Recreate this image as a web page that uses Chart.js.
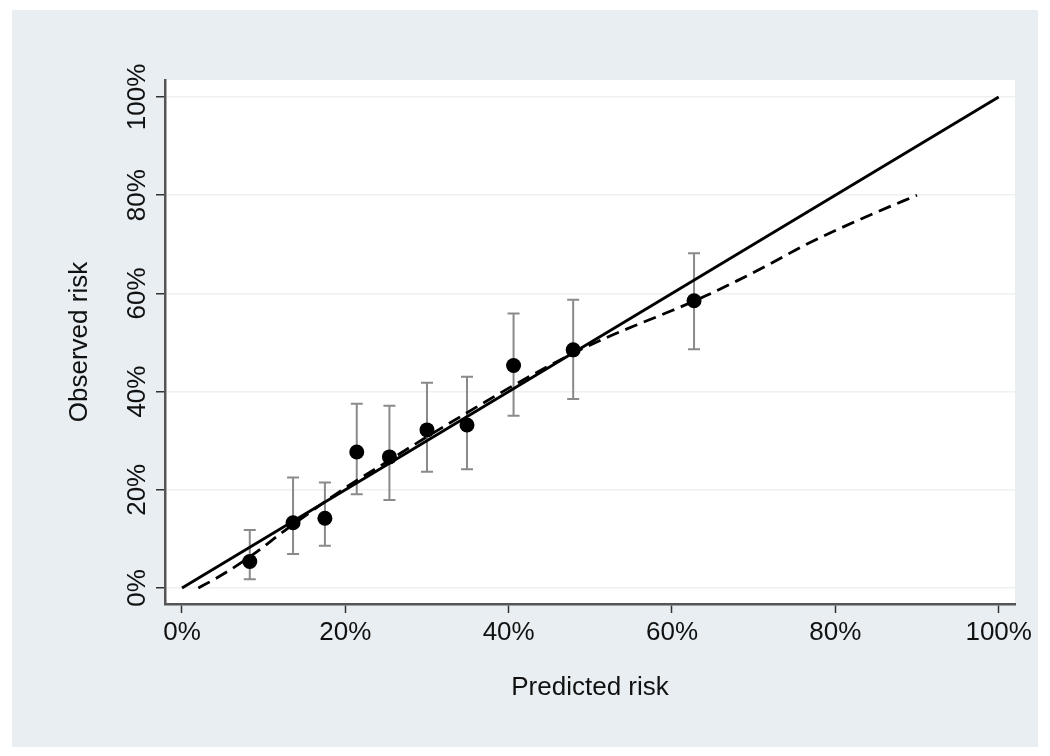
<!DOCTYPE html>
<html>
<head>
<meta charset="utf-8">
<script src="https://cdn.jsdelivr.net/npm/chart.js"></script>
<style>
  html, body { margin: 0; padding: 0; background: #fff; }
  canvas { display: block; }
</style>
</head>
<body>
<canvas id="calib" width="1050" height="756"></canvas>
<script>
// Calibration groups (values in %)
const predicted = [8.3, 13.6, 17.5, 21.4, 25.4, 30.0, 34.9, 40.6, 47.9, 62.7];
const observed  = [5.4, 13.3, 14.2, 27.7, 26.7, 32.2, 33.2, 45.3, 48.5, 58.5];
const ciLow     = [1.8, 6.9, 8.6, 19.1, 17.9, 23.7, 24.2, 35.1, 38.5, 48.6];
const ciHigh    = [11.8, 22.5, 21.5, 37.5, 37.1, 41.8, 43.0, 55.9, 58.7, 68.2];

// Smoothed calibration curve (dashed)
const smoothX = [2, 4, 6, 8, 10, 12, 14, 16, 20, 25, 30, 35, 40, 45, 48, 52, 56, 60, 64, 68, 72, 76, 80, 85, 90];
const smoothY = [0, 1.8, 3.8, 6, 8.4, 11, 13.4, 15.8, 20.4, 25.6, 30.8, 35.8, 40.7, 45.3, 47.9, 51, 53.8, 56.5, 59.4, 62.6, 66, 69.6, 72.8, 76.5, 80];

// Perfect calibration line
const refX = [0, 100];
const refY = [0, 100];

const tickValues = [0, 20, 40, 60, 80, 100];

const toXY = (xs, ys) => xs.map((x, i) => ({ x: x, y: ys[i] }));

const FONT = "'Liberation Sans', Arial, Helvetica, sans-serif";
const TEXT = '#111';

// Gray panel + white plot region
const backgroundPlugin = {
    id: 'background',
    beforeDraw(chart) {
        const ctx = chart.ctx;
        const a = chart.chartArea;
        ctx.save();
        ctx.fillStyle = '#ffffff';
        ctx.fillRect(0, 0, chart.width, chart.height);
        ctx.fillStyle = '#e8eef1';
        ctx.fillRect(12, 10, 1026, 737);
        ctx.fillStyle = '#ffffff';
        ctx.fillRect(a.left, a.top, a.right - a.left, a.bottom - a.top);
        ctx.restore();
    }
};

// Confidence interval whiskers
const errorBarPlugin = {
    id: 'errorBars',
    beforeDatasetsDraw(chart) {
        const ctx = chart.ctx;
        const xs = chart.scales.x;
        const ys = chart.scales.y;
        ctx.save();
        ctx.strokeStyle = '#8a8a8a';
        ctx.lineWidth = 2;
        predicted.forEach((p, i) => {
            const px = xs.getPixelForValue(p);
            const top = ys.getPixelForValue(ciHigh[i]);
            const bot = ys.getPixelForValue(ciLow[i]);
            ctx.beginPath();
            ctx.moveTo(px, top);
            ctx.lineTo(px, bot);
            ctx.moveTo(px - 6, top);
            ctx.lineTo(px + 6, top);
            ctx.moveTo(px - 6, bot);
            ctx.lineTo(px + 6, bot);
            ctx.stroke();
        });
        ctx.restore();
    }
};

new Chart(document.getElementById('calib'), {
    type: 'scatter',
    data: {
        datasets: [
            {
                label: 'Observed',
                data: toXY(predicted, observed),
                backgroundColor: '#000',
                borderWidth: 0,
                pointRadius: 7.5
            },
            {
                label: 'Reference',
                data: toXY(refX, refY),
                showLine: true,
                borderColor: '#000',
                borderWidth: 2.8,
                pointRadius: 0
            },
            {
                label: 'Smoothed',
                data: toXY(smoothX, smoothY),
                showLine: true,
                borderColor: '#000',
                borderWidth: 2.8,
                borderDash: [13, 7],
                cubicInterpolationMode: 'monotone',
                pointRadius: 0
            }
        ]
    },
    options: {
        responsive: false,
        animation: false,
        layout: { padding: { top: 80, right: 35, left: 0, bottom: 0 } },
        plugins: {
            legend: { display: false },
            tooltip: { enabled: false }
        },
        scales: {
            x: {
                type: 'linear',
                min: -2.08,
                max: 102.0,
                afterBuildTicks: (scale) => { scale.ticks = tickValues.map(v => ({ value: v })); },
                afterFit: (scale) => { scale.height = 152; },
                grid: {
                    drawOnChartArea: false,
                    tickLength: 9,
                    tickColor: '#333',
                    tickWidth: 1.5
                },
                border: { display: true, color: '#555', width: 2.5 },
                ticks: {
                    padding: 4,
                    color: TEXT,
                    font: { family: FONT, size: 26 },
                    callback: (v) => v + '%'
                },
                title: {
                    display: true,
                    text: 'Predicted risk',
                    color: TEXT,
                    font: { family: FONT, size: 26 },
                    padding: { top: 0, bottom: 53 }
                }
            },
            y: {
                type: 'linear',
                min: -3.26,
                max: 103.46,
                afterBuildTicks: (scale) => { scale.ticks = tickValues.map(v => ({ value: v })); },
                afterFit: (scale) => { scale.width = 165; },
                grid: {
                    color: '#eef1f2',
                    lineWidth: 1.5,
                    tickLength: 9,
                    tickColor: '#333',
                    tickWidth: 1.5
                },
                border: { display: true, color: '#555', width: 2.5 },
                ticks: {
                    minRotation: 90,
                    maxRotation: 90,
                    crossAlign: 'center',
                    padding: -15,
                    color: TEXT,
                    font: { family: FONT, size: 26 },
                    callback: (v) => v + '%'
                },
                title: {
                    display: true,
                    text: 'Observed risk',
                    color: TEXT,
                    font: { family: FONT, size: 26 },
                    padding: { top: 64, bottom: 0 }
                }
            }
        }
    },
    plugins: [backgroundPlugin, errorBarPlugin]
});
</script>
</body>
</html>
